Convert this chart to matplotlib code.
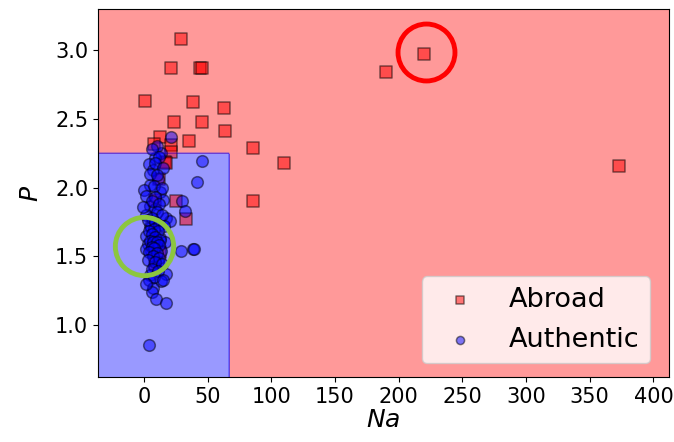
import matplotlib
matplotlib.use("Agg")
import matplotlib.pyplot as plt
import numpy as np

# Decision regions (thresholds)
na_split = 66.6
p_split = 2.25
na_range = (-36, 412)
p_range = (0.62, 3.30)

# Abroad samples (Na, P)
abroad_na = [29.4, 21.0, 43.8, 45.9, 0.6, 38.5, 63.2, 23.3, 45.9, 63.4, 12.6, 35.4, 86.0,
             7.9, 21.0, 21.5, 109.8, 16.8, 24.9, 85.7, 33.3, 190.0, 220.0, 372.7,
             8.4, 12.3, 17.6, 8.4, 12.0]
abroad_p = [3.085, 2.87, 2.87, 2.87, 2.63, 2.62, 2.58, 2.48, 2.48, 2.415, 2.37, 2.34, 2.29,
            2.32, 2.31, 2.26, 2.18, 2.185, 1.90, 1.90, 1.77, 2.84, 2.97, 2.155,
            1.91, 1.53, 2.18, 1.44, 2.06]

# Authentic samples (Na, P)
authentic_na = [13.7, 8.4, 3.7, 7.1, 11.0, 4.5, 0.0, 12.3, 15.0, 4.5, 8.4, 1.9, 17.6, 20.2,
                4.5, 5.8, 1.9, 7.1, 12.3, 16.3, 3.1, 9.7, 5.8, 13.7, 1.9, 11.0, 7.9, 17.6,
                4.5, 13.7, 3.9, 7.0, 6.0, 9.2, 17.0, 3.9,
                29.9, 32.0, 28.9, 38.8, 39.5, 45.6, 42.0, 21.2,
                10, 6, 12, 9, 15, 5, 10, 8, 14, 2, 9, 6, 12, -1, 10, 14, 6, 3, 9, 12, 16,
                8, 11, 4, 6, 9, 13, 5, 7, 10, 12, 6, 8, 4, 10, 7, 12, 3, 9, 14, 6, 11, 8,
                15, 2]
authentic_p = [2.25, 2.215, 2.17, 2.13, 2.06, 2.02, 1.98, 1.97, 1.91, 1.865, 1.84, 1.80, 1.78,
               1.755, 1.72, 1.71, 1.65, 1.63, 1.635, 1.60, 1.59, 1.575, 1.54, 1.54, 1.55,
               1.455, 1.43, 1.37, 1.36, 1.32, 1.33, 1.27, 1.24, 1.19, 1.157, 0.85,
               1.90, 1.83, 1.54, 1.555, 1.55, 2.19, 2.04, 2.37,
               2.30, 2.28, 2.22, 2.18, 2.14, 2.10, 2.09, 2.01, 2.00, 1.94, 1.93, 1.90, 1.88,
               1.86, 1.82, 1.80, 1.78, 1.76, 1.75, 1.73, 1.72, 1.70, 1.68, 1.68, 1.66, 1.64,
               1.62, 1.61, 1.60, 1.60, 1.58, 1.57, 1.56, 1.53, 1.52, 1.50, 1.49, 1.47, 1.46,
               1.44, 1.41, 1.39, 1.35, 1.33, 1.30]

# Highlighted samples
red_mark = (221.5, 2.985)
green_mark = (0.5, 1.575)

fig = plt.figure(figsize=(6.74, 4.42), dpi=100)
ax = fig.add_axes([98 / 674, 1 - 377 / 442, 570.7 / 674, 368 / 442])

# Decision regions
xx, yy = np.meshgrid(np.linspace(na_range[0], na_range[1], 600),
                     np.linspace(p_range[0], p_range[1], 600))
zz = ((xx <= na_split) & (yy <= p_split)).astype(int)
ax.contourf(xx, yy, zz, levels=[-0.5, 0.5, 1.5], colors=['red', 'blue'], alpha=0.4)
ax.contour(xx, yy, zz, levels=[0.5], colors='blue', alpha=0.4, linewidths=1)

ax.scatter(abroad_na, abroad_p, marker='s', c='red', alpha=0.5, edgecolor='black',
           linewidths=1.1, s=70, label='Abroad')
ax.scatter(authentic_na, authentic_p, marker='o', c='blue', alpha=0.5, edgecolor='black',
           linewidths=1.1, s=70, label='Authentic')

ax.plot(*red_mark, marker='o', markersize=41, mfc='none', mec='red', mew=3.5)
ax.plot(*green_mark, marker='o', markersize=42, mfc='none', mec='#8cc63f', mew=3.5)

ax.set_xlim(*na_range)
ax.set_ylim(*p_range)
ax.set_xticks([0, 50, 100, 150, 200, 250, 300, 350, 400])
ax.set_yticks([1.0, 1.5, 2.0, 2.5, 3.0])
ax.tick_params(labelsize=15)
ax.set_xlabel('$Na$', fontsize=18, labelpad=1)
ax.set_ylabel('$P$', fontsize=18, labelpad=9)

ax.legend(loc='lower right', fontsize=19.5, markerscale=0.7,
          bbox_to_anchor=(1 - 5 / 570.7, 0))

fig.savefig('out.png', dpi=100)
